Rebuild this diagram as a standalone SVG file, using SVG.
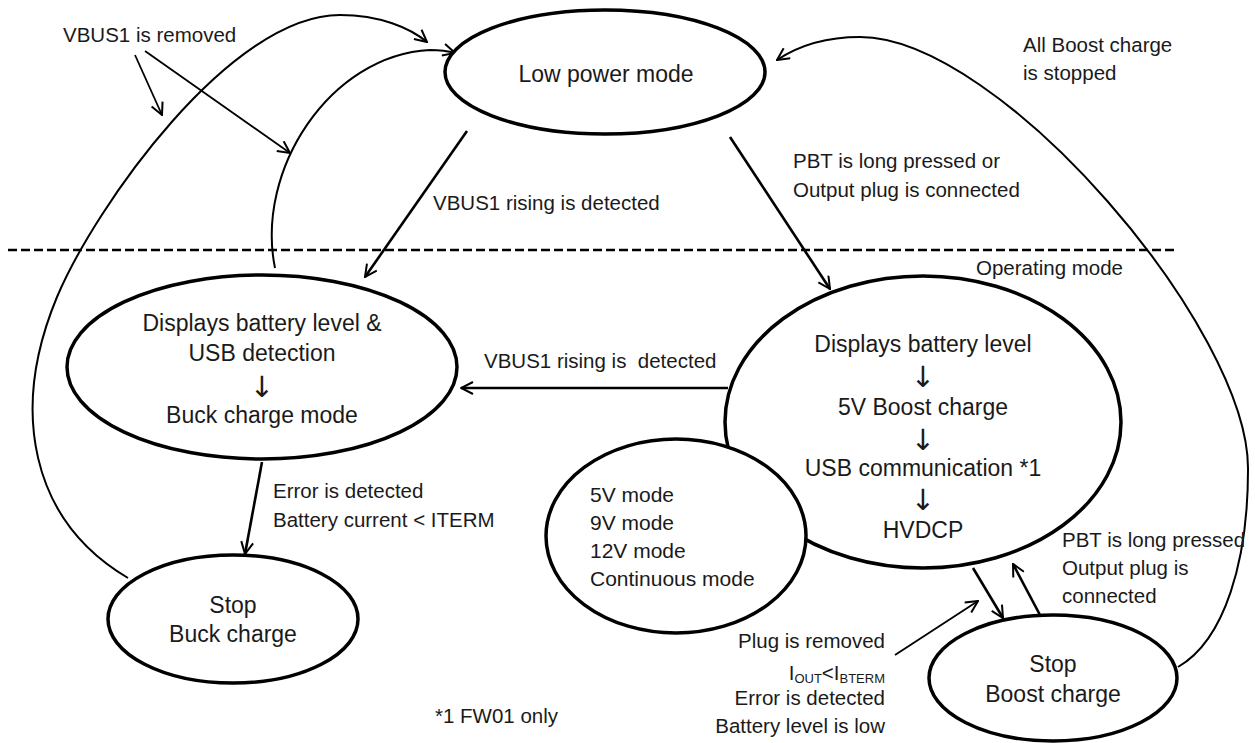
<svg xmlns="http://www.w3.org/2000/svg" width="1255" height="743" viewBox="0 0 1255 743">
<style>
  .node { fill: #fff; stroke: #000; stroke-width: 3.5; }
  .nt { font-family: "Liberation Sans", Arial, sans-serif; font-size: 23px; fill: #1a1a1a; text-anchor: middle; }
  .ar { font-family: "DejaVu Sans", "Liberation Sans", sans-serif; font-size: 29px; fill: #1a1a1a; text-anchor: middle; }
  .mt { font-family: "Liberation Sans", Arial, sans-serif; font-size: 21px; fill: #1a1a1a; }
  .lb { font-family: "Liberation Sans", Arial, sans-serif; font-size: 20.5px; fill: #1a1a1a; }
  .thick { fill: none; stroke: #000; stroke-width: 2.6; marker-end: url(#ah); }
  .thin { fill: none; stroke: #000; stroke-width: 1.8; marker-end: url(#ah); }
  .curve { fill: none; stroke: #000; stroke-width: 2; }
</style>
<defs>
  <marker id="ah" viewBox="0 0 14 14" refX="13" refY="7" markerWidth="14" markerHeight="14" markerUnits="userSpaceOnUse" orient="auto">
    <path d="M1,1 L13,7 L1,13" fill="none" stroke="#000" stroke-width="2"/>
  </marker>
</defs>
<rect width="1255" height="743" fill="#fff"/>

<line x1="8" y1="250" x2="1178" y2="250" stroke="#000" stroke-width="2.5" stroke-dasharray="9 4"/>

<g id="connectors">
  <path class="curve" d="M128,578 C30,520 10,410 57,297 C95,207 230,15 340,15 C380,15 410,28 427,42" marker-end="url(#ah)"/>
  <path class="curve" d="M275,268 C255,170 330,55 430,50 C440,50 448,51 455,53" marker-end="url(#ah)"/>
  <path class="curve" d="M1178,667 C1225,640 1248,560 1248,470 C1250,330 1000,37 860,37 C820,37 795,48 777,60" marker-end="url(#ah)"/>
  <line class="thin" x1="135" y1="55" x2="162" y2="115"/>
  <line class="thin" x1="145" y1="51" x2="290" y2="153"/>
  <line class="thick" x1="467" y1="131" x2="365" y2="277"/>
  <line class="thick" x1="730" y1="137" x2="830" y2="289"/>
  <line class="thick" x1="728" y1="388" x2="461" y2="388"/>
  <line class="thick" x1="262" y1="462" x2="245" y2="554"/>
  <line class="thick" x1="973" y1="568" x2="1003" y2="618"/>
  <line class="thick" x1="1040" y1="615" x2="1013" y2="564"/>
  <line class="thin" x1="895" y1="655" x2="978" y2="601"/>
</g>

<g id="node-low-power">
  <ellipse class="node" cx="605" cy="72" rx="160" ry="62"/>
  <text class="nt" x="606" y="82">Low power mode</text>
</g>

<g id="node-buck">
  <ellipse class="node" cx="262" cy="367" rx="195" ry="92"/>
  <text class="nt" x="262" y="331">Displays battery level &amp;</text>
  <text class="nt" x="262" y="361">USB detection</text>
  <text class="ar" x="262" y="397">↓</text>
  <text class="nt" x="262" y="423">Buck charge mode</text>
</g>

<g id="node-boost">
  <ellipse class="node" cx="923" cy="422" rx="198" ry="146"/>
  <text class="nt" x="923" y="352">Displays battery level</text>
  <text class="ar" x="923" y="387">↓</text>
  <text class="nt" x="923" y="415">5V Boost charge</text>
  <text class="ar" x="923" y="450">↓</text>
  <text class="nt" x="923" y="476">USB communication *1</text>
  <text class="ar" x="923" y="510">↓</text>
  <text class="nt" x="923" y="538">HVDCP</text>
</g>

<g id="node-modes">
  <ellipse class="node" cx="676" cy="536" rx="130" ry="97"/>
  <text class="mt" x="590" y="502">5V mode</text>
  <text class="mt" x="590" y="530">9V mode</text>
  <text class="mt" x="590" y="558">12V mode</text>
  <text class="mt" x="590" y="586">Continuous mode</text>
</g>

<g id="node-stop-buck">
  <ellipse class="node" cx="233" cy="619" rx="125" ry="64"/>
  <text class="nt" x="233" y="613">Stop</text>
  <text class="nt" x="233" y="642">Buck charge</text>
</g>

<g id="node-stop-boost">
  <ellipse class="node" cx="1053" cy="678" rx="124" ry="63"/>
  <text class="nt" x="1053" y="672">Stop</text>
  <text class="nt" x="1053" y="702">Boost charge</text>
</g>

<g id="labels">
  <text class="lb" x="63" y="42">VBUS1 is removed</text>
  <text class="lb" x="433" y="210">VBUS1 rising is detected</text>
  <text class="lb" x="793" y="168">PBT is long pressed or</text>
  <text class="lb" x="793" y="197">Output plug is connected</text>
  <text class="lb" x="1023" y="52">All Boost charge</text>
  <text class="lb" x="1023" y="80">is stopped</text>
  <text class="lb" x="976" y="275">Operating mode</text>
  <text class="lb" x="484" y="368" xml:space="preserve">VBUS1 rising is  detected</text>
  <text class="lb" x="273" y="498">Error is detected</text>
  <text class="lb" x="273" y="527">Battery current &lt; ITERM</text>
  <text class="lb" x="1062" y="547">PBT is long pressed</text>
  <text class="lb" x="1062" y="575">Output plug is</text>
  <text class="lb" x="1062" y="603">connected</text>
  <text class="lb" x="885" y="648" text-anchor="end">Plug is removed</text>
  <text class="lb" x="885" y="680" text-anchor="end">I<tspan font-size="13" dy="3">OUT</tspan><tspan dy="-3">&lt;I</tspan><tspan font-size="13" dy="3">BTERM</tspan></text>
  <text class="lb" x="885" y="705" text-anchor="end">Error is detected</text>
  <text class="lb" x="885" y="733" text-anchor="end">Battery level is low</text>
  <text class="lb" x="435" y="723">*1 FW01 only</text>
</g>
</svg>
